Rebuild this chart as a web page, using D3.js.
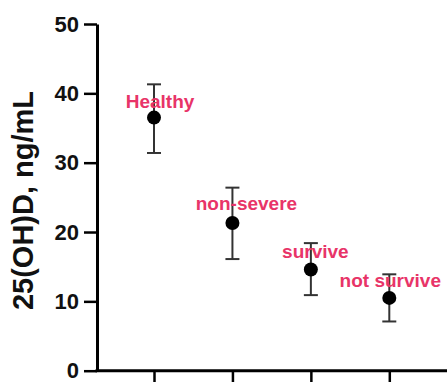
<!DOCTYPE html>
<html><head><meta charset="utf-8">
<script src="https://cdn.jsdelivr.net/npm/d3@7"></script>
<style>body{margin:0;background:#fff}svg{display:block}</style>
</head><body>
<svg id="c" width="447" height="382"></svg>
<script>
const categories = ["Healthy", "non-severe", "survive", "not survive"];
const means = [36.5, 21.3, 14.6, 10.5];
const upper = [41.3, 26.4, 18.4, 13.9];
const lower = [31.4, 16.1, 10.9, 7.1];
const yTicks = [0, 10, 20, 30, 40, 50];
const yLabel = "25(OH)D, ng/mL";

const svg = d3.select("#c");
const x = d3.scalePoint().domain(categories).range([154, 389.3]);
const y = d3.scaleLinear().domain([0, 50]).range([370.7, 24]);
const axisX = 97;
const font = "'Liberation Sans', Arial, sans-serif";

// y axis
const ya = svg.append("g").attr("transform", `translate(${axisX},0)`)
  .call(d3.axisLeft(y).tickValues(yTicks).tickSize(13).tickPadding(5).tickSizeOuter(0));
ya.select(".domain").attr("stroke", "#000").attr("stroke-width", 3);
ya.selectAll(".tick line").attr("stroke", "#000").attr("stroke-width", 2.5);
ya.selectAll(".tick text").attr("font-family", font).attr("font-weight", "bold")
  .attr("font-size", 22).attr("fill", "#111");

// x axis
const xa = svg.append("g").attr("transform", `translate(0,${y(0)})`)
  .call(d3.axisBottom(x).tickSize(13).tickSizeOuter(0).tickFormat(""));
xa.select(".domain").attr("d", `M${axisX - 1.5},0H460`).attr("stroke", "#000").attr("stroke-width", 3);
xa.selectAll(".tick line").attr("stroke", "#000").attr("stroke-width", 2.5);

// y label
svg.append("text").attr("transform", `translate(33,200.5) rotate(-90)`)
  .attr("text-anchor", "middle").attr("font-family", font).attr("font-weight", "bold")
  .attr("font-size", 29).attr("fill", "#111").text(yLabel);

// error bars
const g = svg.append("g");
const data = categories.map((c, i) => ({c, m: means[i], u: upper[i], l: lower[i]}));
const cap = 7;
const eb = g.selectAll("g.eb").data(data).join("g").attr("class", "eb");
eb.append("line").attr("x1", d => x(d.c)).attr("x2", d => x(d.c))
  .attr("y1", d => y(d.u)).attr("y2", d => y(d.l)).attr("stroke", "#333").attr("stroke-width", 2);
eb.append("line").attr("x1", d => x(d.c) - cap).attr("x2", d => x(d.c) + cap)
  .attr("y1", d => y(d.u)).attr("y2", d => y(d.u)).attr("stroke", "#333").attr("stroke-width", 2);
eb.append("line").attr("x1", d => x(d.c) - cap).attr("x2", d => x(d.c) + cap)
  .attr("y1", d => y(d.l)).attr("y2", d => y(d.l)).attr("stroke", "#333").attr("stroke-width", 2);

// labels (behind dots? text is drawn over bars in reference)
const labelOffsetX = [6, 14, 4.5, 1];
const labelOffsetY = [-9.5, -13.5, -11.5, -11];
eb.append("text").attr("x", (d, i) => x(d.c) + labelOffsetX[i])
  .attr("y", (d, i) => y(d.u) + (i === 0 ? 24 : i === 1 ? 22.5 : i === 2 ? 15 : 13))
  .attr("text-anchor", "middle").attr("font-family", font).attr("font-weight", "bold")
  .attr("font-size", 19).attr("fill", "#e83468").text(d => d.c);

eb.append("circle").attr("cx", d => x(d.c)).attr("cy", d => y(d.m)).attr("r", 7).attr("fill", "#000");
</script>
</body></html>
